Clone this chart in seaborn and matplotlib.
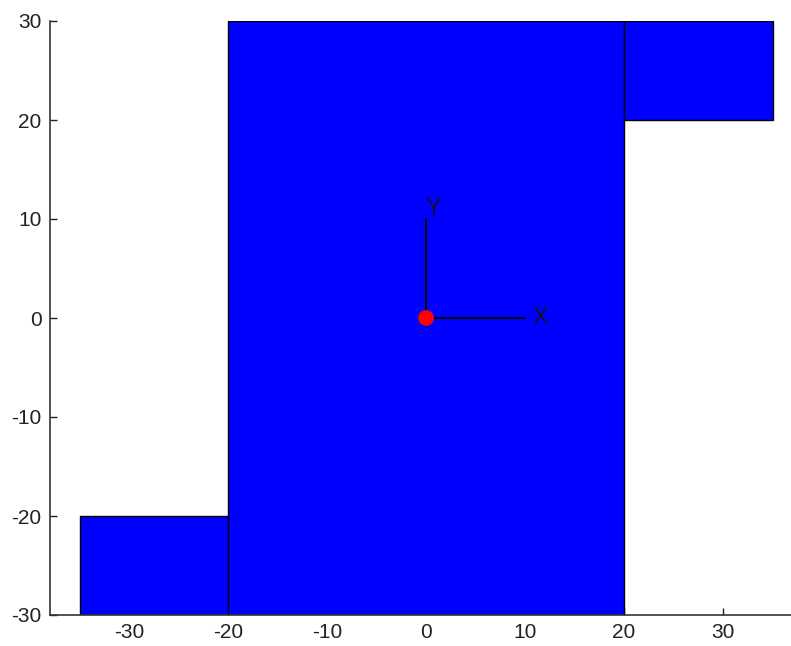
import matplotlib
matplotlib.use("Agg")
import matplotlib.pyplot as plt
import numpy as np
import pandas as pd
import seaborn as sns

# rectangles (x0, x1, y0, y1)
rect_left = [-35, -20, 20]
rect_right = [-20, 20, 35]
rect_bottom = [-30, -30, 20]
rect_top = [-20, 30, 30]

# local frame at the origin
origin = [0, 0]
axis_len = 10
frame_labels = ["X", "Y"]

x_ticks = [-30, -20, -10, 0, 10, 20, 30]
y_ticks = [-30, -20, -10, 0, 10, 20, 30]

sns.set_style("ticks")
plt.rcParams['font.family'] = ['Liberation Sans', 'DejaVu Sans']
plt.rcParams['axes.unicode_minus'] = False

fig = plt.figure(figsize=(7.91, 6.46), dpi=100)
ax = fig.add_axes([50/791, 31/646, 1 - 50/791, (615-21)/646])

rects = pd.DataFrame({"x0": rect_left, "x1": rect_right, "y0": rect_bottom, "y1": rect_top})
ax.bar(rects["x0"], rects["y1"] - rects["y0"], width=rects["x1"] - rects["x0"],
       bottom=rects["y0"], align="edge", color="#0000ff", edgecolor="black", linewidth=1)

# axes of the frame
ax.plot([origin[0], origin[0] + axis_len], [origin[1], origin[1]], color="black", lw=1.4)
ax.plot([origin[0], origin[0]], [origin[1], origin[1] + axis_len], color="black", lw=1.4)
ax.text(origin[0] + axis_len + 0.7, origin[1], frame_labels[0], ha="left", va="center",
        fontsize=17, color="#101030")
ax.text(origin[0] - 0.1, origin[1] + axis_len + 1, frame_labels[1], ha="left", va="center",
        fontsize=17, color="#101030")
sns.scatterplot(x=[origin[0]], y=[origin[1]], color="red", s=130, edgecolor="none", ax=ax, zorder=5)

ax.set_xlim(-38, (791 - 426) / 9.9)
ax.set_ylim(-30, 30)
ax.set_xticks(x_ticks)
ax.set_yticks(y_ticks)
ax.tick_params(direction="in", length=5, width=1, labelsize=15, pad=6, colors="#222222")
for s in ["top", "right"]:
    ax.spines[s].set_visible(False)
for s in ["left", "bottom"]:
    ax.spines[s].set_color("#333333")
    ax.spines[s].set_linewidth(1.2)

fig.savefig("out.png", dpi=100)
